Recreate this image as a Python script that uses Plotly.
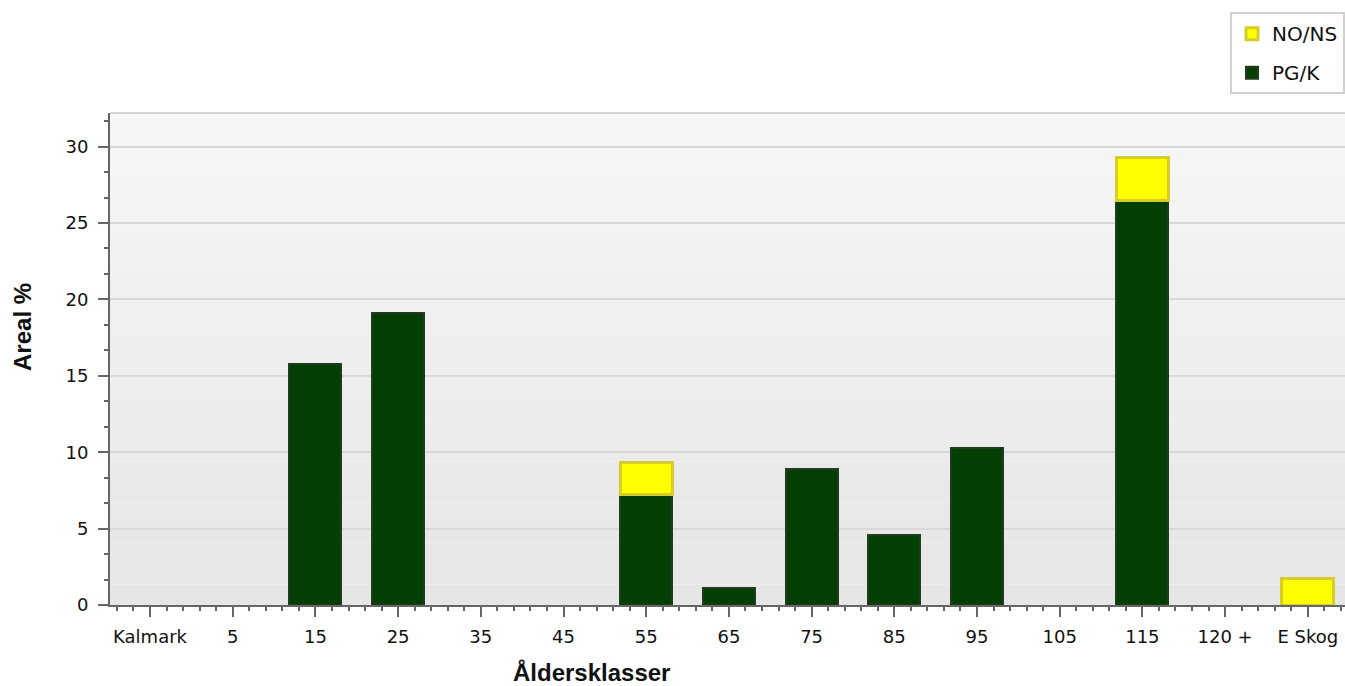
import plotly.graph_objects as go

# Age classes on the x axis
age_classes = ["Kalmark", "5", "15", "25", "35", "45", "55", "65", "75",
               "85", "95", "105", "115", "120 +", "E Skog"]

# Area share (%) per age class, by group (None = no area in that class)
pg_k = [None, None, 15.8, 19.1, None, None, 7.2, 1.1, 8.9, 4.6, 10.3, None, 26.5, None, None]
no_ns = [None, None, None, None, None, None, 2.15, None, None, None, None, None, 2.8, None, 1.75]

y_ticks = [0, 5, 10, 15, 20, 25, 30]

x_pos = list(range(len(age_classes)))

FONT = "DejaVu Sans"
TITLE_FONT = "Liberation Sans"

fig = go.Figure()
fig.add_trace(go.Bar(
    x=x_pos, y=pg_k, name="PG/K", width=0.63,
    marker=dict(color="#033f03", line=dict(color="#213b20", width=2)),
    legendgroup="pgk", legendrank=2,
))
fig.add_trace(go.Bar(
    x=x_pos, y=no_ns, name="NO/NS", width=0.63,
    marker=dict(color="#ffff00", line=dict(color="#d6cd2c", width=3)),
    legendgroup="nons", legendrank=1,
))

# soft vertical gradient behind the plot area
n_bands = 24
for i in range(n_bands):
    t = i / (n_bands - 1)
    c = int(round(0xf6 - t * (0xf6 - 0xe6)))
    col = f"rgb({c},{c},{c})"
    fig.add_shape(type="rect", xref="paper", yref="paper",
                  x0=0, x1=1, y0=1 - (i + 1) / n_bands, y1=1 - i / n_bands,
                  fillcolor=col, line=dict(width=0), layer="below")

# thin frame line along the top of the plot area
fig.add_shape(type="line", xref="paper", yref="paper", x0=0, x1=1, y0=1, y1=1,
              line=dict(color="#d4d4d4", width=2), layer="below")

fig.update_layout(
    width=1345, height=686, autosize=False,
    barmode="stack",
    paper_bgcolor="white",
    plot_bgcolor="rgba(0,0,0,0)",
    margin=dict(l=110, r=0, t=113, b=81),
    font=dict(family=FONT, size=18, color="#111111"),
    showlegend=True,
    legend=dict(
        x=1.0, xanchor="right", y=1.205, yanchor="top",
        bgcolor="white", bordercolor="#d0d0d0", borderwidth=2,
        traceorder="grouped", tracegroupgap=10,
        font=dict(family=FONT, size=20, color="#111111"),
    ),
    annotations=[
        dict(text="<b>Åldersklasser</b>", xref="paper", yref="paper",
             x=0.39, y=-0.138, xanchor="center", yanchor="middle", showarrow=False,
             font=dict(family=TITLE_FONT, size=24, color="#111111")),
        dict(text="<b>Areal %</b>", xref="paper", yref="paper", textangle=-90,
             x=-0.0713, y=0.565, xanchor="center", yanchor="middle", showarrow=False,
             font=dict(family=TITLE_FONT, size=24, color="#111111")),
    ],
)

fig.update_xaxes(
    range=[-0.484, 14.45],
    tickmode="array", tickvals=x_pos, ticktext=age_classes,
    ticks="outside", ticklen=10, tickwidth=2, tickcolor="#666666",
    showline=True, linecolor="#666666", linewidth=2,
    showgrid=False, zeroline=False,
    minor=dict(ticks="outside", ticklen=4, tickwidth=2, tickcolor="#666666",
               dtick=0.2, tick0=0, showgrid=False),
    ticklabelstandoff=4,
)
fig.update_yaxes(
    range=[0, 32.2],
    tickmode="array", tickvals=y_ticks,
    ticks="outside", ticklen=10, tickwidth=2, tickcolor="#666666",
    showline=True, linecolor="#666666", linewidth=2,
    showgrid=True, gridcolor="#d8d8d8", gridwidth=2,
    zeroline=False,
    minor=dict(ticks="outside", ticklen=4, tickwidth=2, tickcolor="#666666",
               dtick=5 / 3, tick0=0, showgrid=False),
    ticklabelstandoff=6,
)

fig.write_html("out.html")
